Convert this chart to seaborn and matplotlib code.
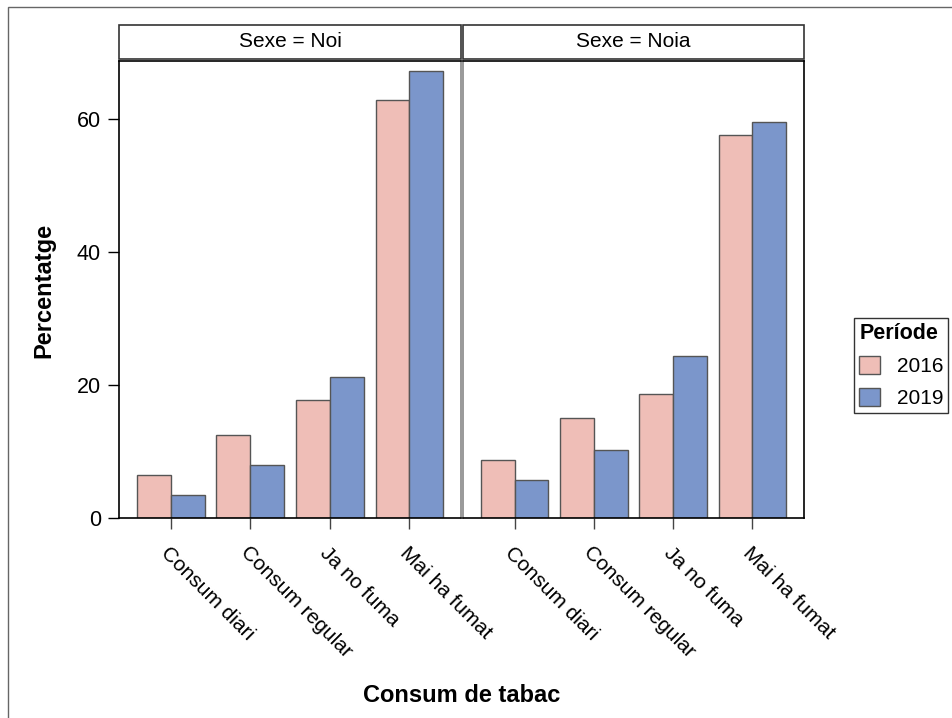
import pandas as pd
import matplotlib.pyplot as plt
import seaborn as sns
from matplotlib.patches import Patch, Rectangle

# data
categories = ['Consum diari', 'Consum regular', 'Ja no fuma', 'Mai ha fumat']
sexes = ['Noi', 'Noia']
periods = ['2016', '2019']
noi_2016 = [6.5, 12.5, 17.8, 62.9]
noi_2019 = [3.4, 8.0, 21.2, 67.2]
noia_2016 = [8.7, 15.1, 18.6, 57.6]
noia_2019 = [5.7, 10.2, 24.4, 59.5]
colors = ['#EFBEB7', '#7B96CB']

values = {('Noi', '2016'): noi_2016, ('Noi', '2019'): noi_2019,
          ('Noia', '2016'): noia_2016, ('Noia', '2019'): noia_2019}
rows = []
for (sexe, per), vals in values.items():
    for cat, v in zip(categories, vals):
        rows.append({'Sexe': sexe, 'Període': per, 'Consum': cat, 'Percentatge': v})
df = pd.DataFrame(rows)

sns.set_theme(style='ticks', rc={'text.color': 'black', 'axes.labelcolor': 'black',
                                 'xtick.color': 'black', 'ytick.color': 'black'})
plt.rcParams['font.family'] = ['Liberation Sans', 'DejaVu Sans']

g = sns.catplot(data=df, x='Consum', y='Percentatge', hue='Període', col='Sexe',
                kind='bar', order=categories, hue_order=periods, col_order=sexes,
                palette=colors, saturation=1, width=0.85, edgecolor='#555555',
                linewidth=1, legend=False, errorbar=None, height=5, aspect=0.8)
fig = g.figure
fig.set_size_inches(9.52, 7.18)

W, H = 952, 718
top, bottom = 61, 518
panels = [(119, 461), (463, 804)]
for ax, sexe, (x0, x1) in zip(g.axes.flat, sexes, panels):
    ax.set_position([x0 / W, 1 - bottom / H, (x1 - x0) / W, (bottom - top) / H])
    ax.set_xlim(-0.65, 3.65)
    ax.set_ylim(0, 68.7)
    ax.set_xlabel('')
    ax.set_ylabel('')
    ax.set_title('')
    ax.set_xticks(range(len(categories)))
    ax.set_xticklabels(categories, rotation=-45, ha='left', va='top',
                       rotation_mode='anchor', fontsize=15)
    ax.tick_params(axis='x', length=8, width=1, color='#444444', pad=10)
    for s in ax.spines.values():
        s.set_visible(True)
        s.set_color('black')
        s.set_linewidth(1.2)
    # strip header
    ax.add_patch(Rectangle((0, 1.0044), 1, 0.0744, transform=ax.transAxes,
                           clip_on=False, fill=False, edgecolor='#333333', lw=1.2))
    ax.text(0.5, 1.0416, f'Sexe = {sexe}', transform=ax.transAxes,
            ha='center', va='center', fontsize=15)

left_ax, right_ax = g.axes.flat
left_ax.set_yticks([0, 20, 40, 60])
left_ax.tick_params(axis='y', labelsize=15.5, length=8, width=1, pad=5)
left_ax.spines['right'].set_color('#888888')
right_ax.spines['left'].set_color('#888888')
right_ax.tick_params(axis='y', left=False, labelleft=False)

fig.text(44 / W, 1 - 290 / H, 'Percentatge', rotation=90, ha='center', va='center',
         fontsize=17, fontweight='bold')
fig.text(461.5 / W, 1 - 702 / H, 'Consum de tabac', ha='center', va='baseline',
         fontsize=17, fontweight='bold')

handles = [Patch(facecolor=c, edgecolor='#555555', lw=1) for c in colors]
leg = fig.legend(handles, periods, title='Període', loc='upper left',
                 bbox_to_anchor=(854 / W, 1 - 318 / H), frameon=True, fancybox=False,
                 edgecolor='#333333', framealpha=1, fontsize=15,
                 title_fontproperties={'weight': 'bold', 'size': 15.5},
                 alignment='left', handlelength=1.0, handleheight=1.0,
                 borderpad=0.25, labelspacing=0.55, handletextpad=0.8, borderaxespad=0)
leg.get_frame().set_linewidth(1)

# outer border (cut off at right and bottom in the reference)
fig.add_artist(Rectangle((7.5 / W, -0.1), 1.2, 1.1 - 7.5 / H, transform=fig.transFigure,
                         fill=False, edgecolor='#666666', lw=1))

fig.savefig('out.png', dpi=100)
